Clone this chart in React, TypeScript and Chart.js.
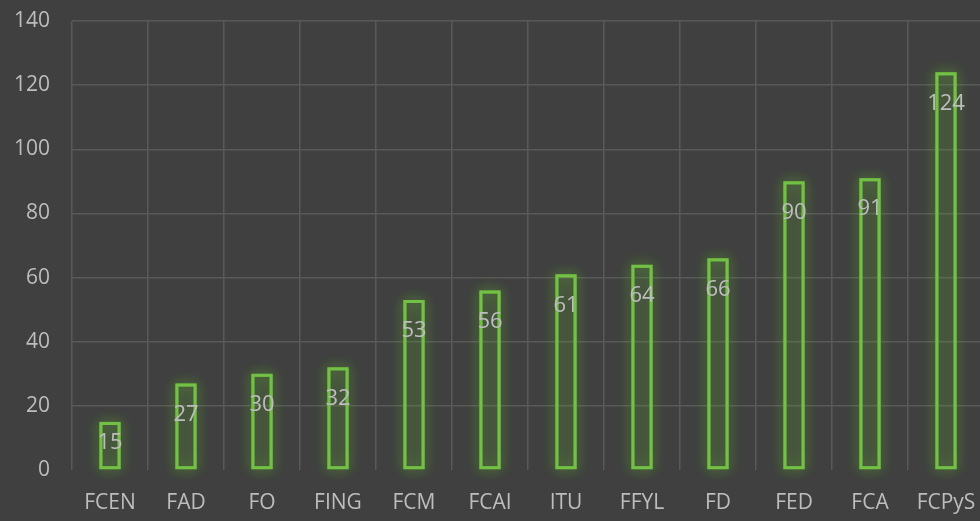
import React, { useEffect, useRef } from "react";
import { Chart, registerables } from "chart.js";

Chart.register(...registerables);

const categories = ["FCEN", "FAD", "FO", "FING", "FCM", "FCAI", "ITU", "FFYL", "FD", "FED", "FCA", "FCPyS"];
const values = [15, 27, 30, 32, 53, 56, 61, 64, 66, 90, 91, 124];
const yTicks = [0, 20, 40, 60, 80, 100, 120, 140];

const FONT = "'Open Sans', 'Noto Sans', sans-serif";
const TEXT = "#bdbdbd";
const GRID = "#595959";
const GREEN = "#72c045";

const glowPlugin = {
  id: "glow",
  beforeDatasetsDraw(chart: any) {
    const ctx = chart.ctx;
    const meta = chart.getDatasetMeta(0);
    ctx.save();
    meta.data.forEach((bar: any) => {
      const { x, y, base, width } = bar.getProps(["x", "y", "base", "width"], true);
      const l = x - width / 2;
      const t = Math.min(y, base);
      const h = Math.abs(base - y);
      ctx.shadowColor = "rgba(110,200,50,0.85)";
      ctx.shadowBlur = 14;
      ctx.strokeStyle = "rgba(110,200,50,0.55)";
      ctx.lineWidth = 3;
      ctx.strokeRect(l + 1.5, t + 1.5, width - 3, h - 3);
      ctx.strokeRect(l + 1.5, t + 1.5, width - 3, h - 3);
    });
    ctx.restore();
  },
};

const labelPlugin = {
  id: "valueLabels",
  afterDraw(chart: any) {
    const ctx = chart.ctx;
    const meta = chart.getDatasetMeta(0);
    const base = chart.scales.y.getPixelForValue(0);
    ctx.save();
    ctx.fillStyle = TEXT;
    ctx.font = `22px ${FONT}`;
    ctx.textAlign = "center";
    ctx.textBaseline = "middle";
    meta.data.forEach((bar: any, i: number) => {
      const y = Math.min(bar.y + 31, base - 27);
      ctx.fillText(String(values[i]), bar.x, y);
    });
    ctx.restore();
  },
};

export default function App() {
  const ref = useRef<HTMLCanvasElement>(null);
  useEffect(() => {
    const chart = new Chart(ref.current!, {
      type: "bar",
      data: {
        labels: categories,
        datasets: [
          {
            data: values,
            backgroundColor: "rgba(114,192,69,0.04)",
            borderColor: GREEN,
            borderWidth: 3,
            borderSkipped: false,
            categoryPercentage: 1,
            barPercentage: 0.28,
          },
        ],
      },
      options: {
        animation: false,
        responsive: false,
        maintainAspectRatio: false,
        layout: { padding: { top: 21, right: 6, left: 0, bottom: 0 } },
        plugins: { legend: { display: false }, tooltip: { enabled: false } },
        scales: {
          x: {
            offset: true,
            grid: { color: GRID, lineWidth: 1.5, drawTicks: false, offset: true },
            border: { display: false },
            ticks: { color: TEXT, font: { family: FONT, size: 21 }, padding: 20, maxRotation: 0, autoSkip: false },
            afterFit(s: any) { s.height = 51; s.paddingLeft = 0; s.paddingRight = 0; },
          },
          y: {
            min: 0,
            max: 140,
            afterBuildTicks(s: any) { s.ticks = yTicks.map((v) => ({ value: v })); },
            grid: {
              color: (c: any) => (c.tick && c.tick.value === 0 ? "rgba(0,0,0,0)" : GRID),
              lineWidth: 1.5,
              drawTicks: false,
            },
            border: { display: false },
            ticks: { color: TEXT, font: { family: FONT, size: 21 }, padding: 22 },
            afterFit(s: any) { s.width = 72; s.paddingTop = 0; s.paddingBottom = 0; },
          },
        },
      },
      plugins: [glowPlugin, labelPlugin],
    });
    return () => chart.destroy();
  }, []);
  return (
    <div style={{ position: "fixed", left: 0, top: 0, width: 980, height: 521, overflow: "hidden", background: "#404040" }}>
      <canvas ref={ref} width={990} height={521} style={{ display: "block", width: 990, height: 521 }} />
    </div>
  );
}
